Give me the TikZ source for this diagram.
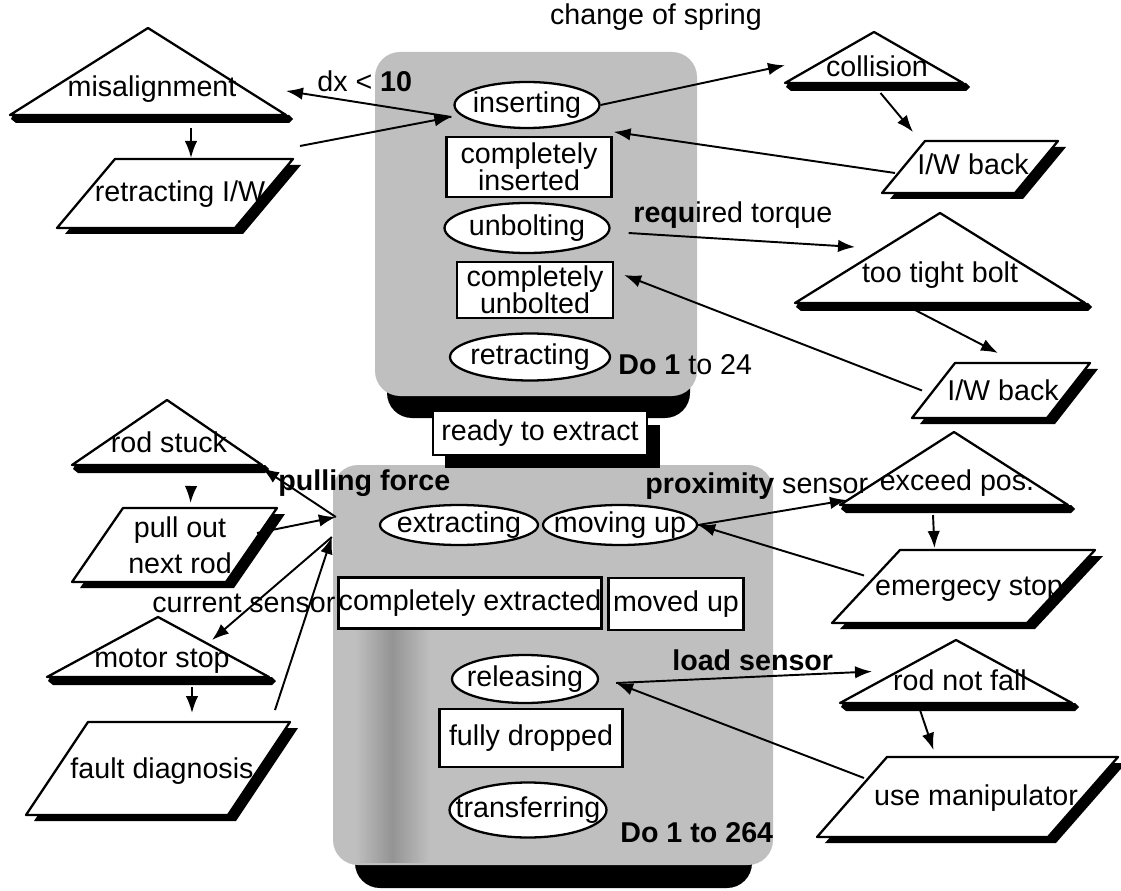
\documentclass[tikz,border=0pt]{standalone}
\usepackage{fontspec}
\setmainfont{Liberation Sans}
\usetikzlibrary{calc}
\usetikzlibrary{shapes}
\usetikzlibrary{fit}
\usetikzlibrary{arrows.meta}

\definecolor{boxgray}{gray}{0.75}

\tikzset{
  shapeline/.style={line width=1.3pt, line join=round},
  state/.style={ellipse, draw, fill=white, line width=1.3pt, inner sep=0pt},
  box/.style={rectangle, draw, fill=white, line width=1.3pt, inner sep=0pt, align=center, font=\fontsize{16.3}{15.5}\selectfont},
  bbox/.style={inner sep=0pt, outer sep=0pt},
  lbl/.style={inner sep=0pt, anchor=base, align=center},
  tag/.style={inner sep=0pt, anchor=base west},
  conn/.style={line width=1.1pt, -{Latex[length=0.34cm, width=0.25cm]}}
}

\newcommand{\zw}[1]{\makebox[0pt]{#1}}
\newcommand{\faultnode}[8]{ \fill ({#2-#5+3},#4) -- ({#2+#5+3},#4) -- ({#2+#5+7},{#4+4}) -- ({#2+#5+3},{#4+8}) -- ({#2-#5+6},{#4+8}) -- ({#2-#5+1},{#4+4}) -- cycle;
  \draw[shapeline, fill=white] ({#2-#5},#4) coordinate (#1-bl) -- (#2,#3) coordinate (#1-ap) -- ({#2+#5},#4) coordinate (#1-br) -- cycle;
  \node[bbox, fit=(#1-bl)(#1-ap)(#1-br)] (#1) {};
  \node[lbl] (#1-t) at (#6,#7) {#8};}
\newcommand{\actnode}[9]{ \fill[shift={(8,6)}] (#2,#3) -- ++(#4,0) -- ++(-#6,#5) -- ++(-#4,0) -- cycle;
  \draw[shapeline, fill=white] (#2,#3) -- ++(#4,0) coordinate (#1-tr) -- ++(-#6,#5) -- ++(-#4,0) coordinate (#1-bl) -- cycle;
  \node[bbox, fit=(#1-bl)(#1-tr)] (#1) {};
  \node[lbl] (#1-t) at (#7,#8) {#9};}

\begin{document}
\begin{tikzpicture}[x=0.02cm, y=-0.02cm, font=\fontsize{16.3}{16.3}\selectfont]
        \useasboundingbox (0,0) rectangle (1121,891);

        % do 1 to 24
        \fill[black, rounded corners=0.5cm] (387,75) rectangle (690,418);
        \fill[boxgray, rounded corners=0.5cm] (375,52) rectangle (697,396);
        % do 1 to 264
        \fill[black, rounded corners=0.5cm] (355,490) rectangle (752,888);
        \fill[boxgray, rounded corners=0.5cm] (333,465) rectangle (773,865);
        \shade[left color=boxgray, right color=black!42] (355,620) rectangle (392,862);
        \shade[left color=black!42, right color=boxgray] (392,620) rectangle (430,862);

        \fill (445,425) rectangle (660,468);
        \node[box, minimum width=4.28cm, minimum height=0.88cm] (ready) at (540,433) {ready to extract};

        % faults
        \faultnode{mis}{148}{28}{115}{138}{152}{97}{misalignment}
        \faultnode{coll}{874}{32}{83}{89}{877}{77}{collision}
        \faultnode{tight}{940}{213}{303}{145}{940}{283}{too tight bolt}
        \faultnode{exceed}{954}{432}{505}{114}{957}{490}{exceed pos.}
        \faultnode{notfall}{956}{640}{703}{116}{960}{690}{rod not fall}
        \faultnode{stuck}{167}{400}{465}{95}{169}{452}{rod stuck}
        \faultnode{motor}{158}{617}{677}{111}{162}{667}{motor stop}

        % recovery
        \actnode{retr}{115}{159}{178}{69}{58}{180}{202}{retracting I/W}
        \actnode{iwb1}{925}{141}{133}{52}{43}{973}{175}{I/W back}
        \actnode{iwb2}{955}{363}{135}{55}{43}{1003}{400}{I/W back}
        \actnode{estop}{900}{550}{195}{73}{68}{969}{595}{emergecy stop}
        \actnode{manip}{887}{757}{231}{80}{70}{976}{805}{use manipulator}
        \actnode{pull}{123}{508}{154}{74}{51}{180}{573}{pull out\\[4pt]next rod}
        \actnode{fault}{88}{722}{202}{93}{62}{162}{778}{fault diagnosis}

        % states
        \node[state, minimum width=2.9cm, minimum height=0.92cm] (inserting) at (527,105) {\zw{inserting}};
        \node[box, minimum width=3.3cm, minimum height=1.2cm] (cins) at (529,167) {completely\\inserted};
        \node[state, minimum width=3.3cm, minimum height=1.0cm] (unbolting) at (527,228) {\zw{unbolting}};
        \node[box, minimum width=3.12cm, minimum height=1.12cm] (cunb) at (535,290) {completely\\unbolted};
        \node[state, minimum width=3.2cm, minimum height=0.94cm] (retracting) at (530,357) {\zw{retracting}};

        \node[state, minimum width=3.16cm, minimum height=0.8cm] (extracting) at (459,525) {\zw{extracting}};
        \node[state, minimum width=3.08cm, minimum height=0.8cm] (movingup) at (620,525) {\zw{moving up}};
        \node[box, minimum width=5.26cm, minimum height=1.02cm] (cext) at (470,603) {\zw{completely extracted}};
        \node[box, minimum width=2.7cm, minimum height=1.04cm] (movedup) at (676,604) {moved up};
        \node[state, minimum width=2.92cm, minimum height=0.96cm] (releasing) at (525,679) {\zw{releasing}};
        \node[box, minimum width=3.66cm, minimum height=1.16cm] (dropped) at (531,738) {fully dropped};
        \node[state, minimum width=3.14cm, minimum height=1.1cm] (transferring) at (528,810) {\zw{transferring}};

        % texts
        \node[lbl] (spring) at (656,25) {change of spring};
        \node[tag] (dx) at (317,92) {dx < \textbf{10}};
        \node[tag] (torque) at (633,223) {\textbf{requ}ired torque};
        \node[tag] (do24) at (618,375) {\textbf{Do 1} to 24};
        \node[tag] (pulling) at (278,490) {\textbf{pulling force}};
        \node[tag] (proximity) at (645,493) {\textbf{proximity} sensor};
        \node[tag] (current) at (152,612) {current sensor};
        \node[tag] (load) at (672,670) {\textbf{load sensor}};
        \node[tag] (do264) at (620,842) {\textbf{Do 1 to 264}};

        % arrows
        \coordinate (insin) at ($(inserting.west)+(-2,12)$);
        \draw[conn] (insin) -- (mis.-8);
        \draw[conn] ($(retr.north east)+(7,-13)$) -- (insin);
        \draw[conn] ($(mis.south)+(43,13)$) -- ($(retr.north)+(16,-1)$);
        \draw[conn] (inserting.east) -- (coll.185);
        \draw[conn] ($(coll.-80)+(2,10)$) -- ($(iwb1.north west)+(31,-9)$);
        \draw[conn] ($(iwb1.west)+(13,6)$) -- ($(cins.north east)+(1,-4)$);
        \draw[conn] ($(unbolting.east)+(18,5)$) -- ($(tight.west)+(60,-11)$);
        \draw[conn] ($(tight.south)+(-25,7)$) -- ($(iwb2.north)+(-3,-10)$);
        \draw[conn] ($(iwb2.west)+(10,0)$) -- ($(cunb.east)+(10,-15)$);

        \draw[conn] (movingup.east) -- ($(exceed.south west)+(7,-5)$);
        \draw[conn] ($(exceed.south)+(-21,10)$) -- ($(estop.north)+(-29,-2)$);
        \draw[conn] ($(estop.west)+(32,-11)$) -- (movingup.east);
        \coordinate (relin) at ($(releasing.east)+(17,4)$);
        \draw[conn] (relin) -- ($(notfall.west)+(32,0)$);
        \draw[conn] ($(notfall.south)+(-36,7)$) -- ($(manip.north)+(-34,-7)$);
        \draw[conn] ($(manip.west)+(47,-19)$) -- (relin);

        \coordinate (extin1) at ($(extracting.west)+(-43,-8)$);
        \coordinate (extin2) at ($(extracting.west)+(-47,12)$);
        \draw[conn] (extin1) -- ($(stuck.south east)+(0,3)$);
        \draw[conn] ($(stuck.south)+(24,22)$) -- ($(pull.north)+(16,-5)$);
        \draw[conn] ($(pull.east)+(-20,-12)$) -- (extin1);
        \draw[conn] (extin2) -- ($(motor.east)+(-57,-7)$);
        \draw[conn] ($(motor.south)+(34,10)$) -- ($(fault.north)+(34,-9)$);
        \draw[conn] ($(fault.north east)+(-15,-12)$) -- (extin2);

\end{tikzpicture}
\end{document}
